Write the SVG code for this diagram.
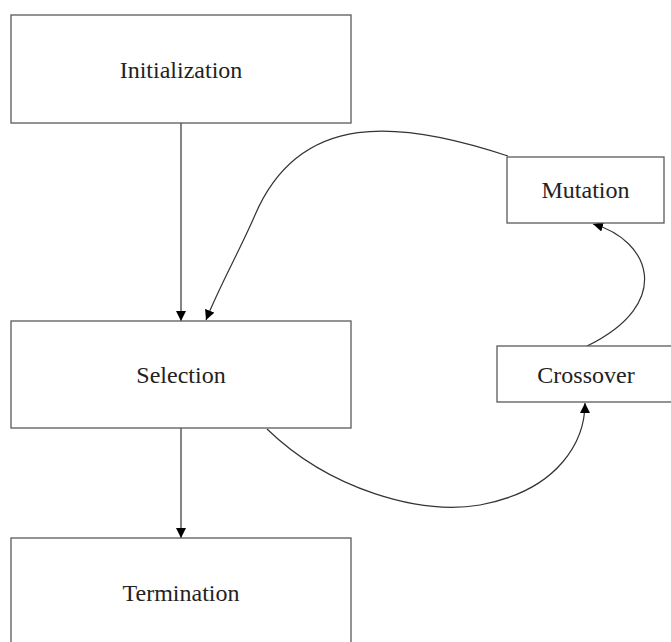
<svg xmlns="http://www.w3.org/2000/svg" width="671" height="642" viewBox="0 0 671 642">
<style>
.box{fill:#fff;stroke:#5a5a5a;stroke-width:1.3}
.lbl{font-family:"Liberation Serif","Times New Roman",serif;font-size:24px;fill:#222;text-anchor:middle}
.edge{fill:none;stroke:#333;stroke-width:1.2}
</style>
<defs>
<marker id="arr" viewBox="0 0 10 10" refX="10" refY="5" markerWidth="10" markerHeight="10" markerUnits="userSpaceOnUse" orient="auto">
<path d="M0,0 L10,5 L0,10 Z" fill="#000"/>
</marker>
</defs>
<rect width="671" height="642" fill="#fff"/>
<g id="connectors">
<path class="edge" d="M181,123 L181,321" marker-end="url(#arr)"/>
<path class="edge" d="M181,428 L181,538" marker-end="url(#arr)"/>
<path class="edge" d="M508,156 C400,120 300,110 255,215 C240,250 220,285 206,320" marker-end="url(#arr)"/>
<path class="edge" d="M267,429 C330,490 420,515 480,505 C560,490 585,440 585,403" marker-end="url(#arr)"/>
<path class="edge" d="M587,346 C675,303 650,240 593,224" marker-end="url(#arr)"/>
</g>
<g id="initialization">
<rect class="box" x="11" y="15" width="340" height="108"/>
<text class="lbl" x="181" y="78">Initialization</text>
</g>
<g id="selection">
<rect class="box" x="11" y="321" width="340" height="107"/>
<text class="lbl" x="181" y="383">Selection</text>
</g>
<g id="termination">
<rect class="box" x="11" y="538" width="340" height="110"/>
<text class="lbl" x="181" y="601">Termination</text>
</g>
<g id="mutation">
<rect class="box" x="507" y="157" width="157" height="66"/>
<text class="lbl" x="585.5" y="198">Mutation</text>
</g>
<g id="crossover">
<rect class="box" x="497" y="346" width="178" height="56"/>
<text class="lbl" x="586" y="383">Crossover</text>
</g>
</svg>
